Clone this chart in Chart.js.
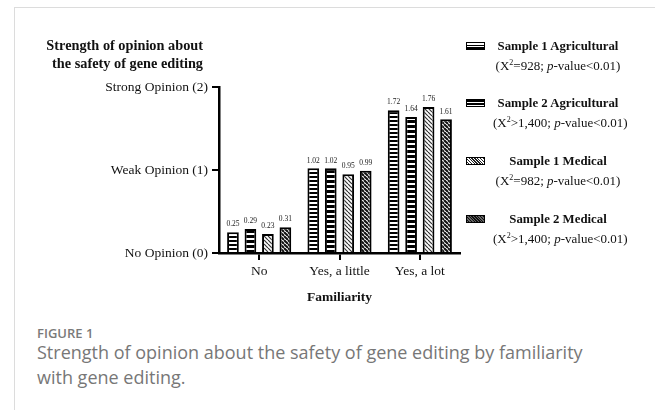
<!DOCTYPE html>
<html>
<head>
<meta charset="utf-8">
<script src="https://cdn.jsdelivr.net/npm/chart.js@4"></script>
<style>
  html, body { margin: 0; padding: 0; background: #fff; }
  body { width: 655px; height: 410px; position: relative; overflow: hidden; }
  .card { position: absolute; left: 14px; top: 7px; width: 700px; height: 500px; border: 1px solid #dcdcdc; }
  #wrap { position: absolute; left: 0; top: 0; width: 655px; height: 310px; }
  .serif { font-family: "Liberation Serif", "Times New Roman", serif; color: #111; }
  .ytitle { position: absolute; left: 0; width: 203px; top: 36px; text-align: right; font-weight: bold; font-size: 14.3px; line-height: 18px; }
  .legend { position: absolute; left: 466px; top: 0; width: 189px; }
  .item { position: absolute; left: 0; width: 189px; }
  .sw { position: absolute; left: 0; width: 17px; height: 6px; border: 1.5px solid #000; }
  .lt { position: absolute; left: 27px; width: 130px; text-align: center; font-size: 13px; line-height: 20px; white-space: nowrap; }
  .lt b { display: block; font-size: 12.8px; }
  .lt sup { font-size: 8px; line-height: 0; }
  .cap { position: absolute; left: 37px; font-family: "Open Sans", sans-serif; }
  .fig { top: 324px; font-size: 13px; font-weight: 600; color: #7a7a7a; }
  .txt { top: 340px; font-size: 18px; line-height: 25px; color: #777; width: 620px; }
</style>
</head>
<body>
<div class="card"></div>
<div id="wrap"><canvas id="chart"></canvas></div>
<div class="ytitle serif">Strength of opinion about<br>the safety of gene editing</div>
<div class="legend serif" id="legend"></div>
<div class="cap fig">FIGURE 1</div>
<div class="cap txt">Strength of opinion about the safety of gene editing by familiarity<br>with gene editing.</div>
<script>
const categories = ['No', 'Yes, a little', 'Yes, a lot']
const yTickLabels = ['No Opinion (0)', 'Weak Opinion (1)', 'Strong Opinion (2)']
const seriesNames = ['Sample 1 Agricultural', 'Sample 2 Agricultural', 'Sample 1 Medical', 'Sample 2 Medical']
const seriesStats = [
  '(X<sup>2</sup>=928; <i>p</i>-value&lt;0.01)',
  '(X<sup>2</sup>&gt;1,400; <i>p</i>-value&lt;0.01)',
  '(X<sup>2</sup>=982; <i>p</i>-value&lt;0.01)',
  '(X<sup>2</sup>&gt;1,400; <i>p</i>-value&lt;0.01)'
]
const sample1Agri = [0.25, 1.02, 1.72]
const sample2Agri = [0.29, 1.02, 1.64]
const sample1Med = [0.23, 0.95, 1.76]
const sample2Med = [0.31, 0.99, 1.61]

const SERIF = '"Liberation Serif", "Times New Roman", serif'

// stripe patterns for the bars
function hStripes(black, white) {
  const c = document.createElement('canvas')
  c.width = 4; c.height = black + white
  const g = c.getContext('2d')
  g.fillStyle = '#fff'; g.fillRect(0, 0, 4, c.height)
  g.fillStyle = '#000'; g.fillRect(0, 0, 4, black)
  return g.createPattern(c, 'repeat')
}
function dStripes(ink, width) {
  const c = document.createElement('canvas')
  c.width = 4; c.height = 4
  const g = c.getContext('2d')
  g.fillStyle = '#fff'; g.fillRect(0, 0, 4, 4)
  g.strokeStyle = ink; g.lineWidth = width
  for (let k = -4; k <= 8; k += 4) {
    g.beginPath(); g.moveTo(k, 0); g.lineTo(k + 4, 4); g.stroke()
  }
  return g.createPattern(c, 'repeat')
}
const patterns = [hStripes(2, 2), hStripes(3, 2), dStripes('#333', 1.2), dStripes('#111', 2)]
const swatchCss = [
  'repeating-linear-gradient(180deg,#fff 0 1.5px,#000 1.5px 3px)',
  'repeating-linear-gradient(180deg,#000 0 2px,#fff 2px 3px)',
  'repeating-linear-gradient(45deg,#fff 0 1px,#222 1px 2px)',
  'repeating-linear-gradient(45deg,#666 0 1px,#111 1px 2px)'
]

// html legend
const legendTops = [36, 93, 151, 209]
const legendEl = document.getElementById('legend')
seriesNames.forEach((name, i) => {
  const it = document.createElement('div')
  it.className = 'item'
  it.style.top = legendTops[i] + 'px'
  it.innerHTML = '<div class="sw" style="top:6px;background:' + swatchCss[i] + '"></div>' +
    '<div class="lt"><b>' + name + '</b>' + seriesStats[i] + '</div>'
  legendEl.appendChild(it)
})

const valueLabels = {
  id: 'valueLabels',
  afterDatasetsDraw(chart) {
    const ctx = chart.ctx
    ctx.save()
    ctx.font = '7.5px ' + SERIF
    ctx.fillStyle = '#222'
    ctx.textAlign = 'center'
    ctx.textBaseline = 'bottom'
    chart.data.datasets.forEach((ds, i) => {
      chart.getDatasetMeta(i).data.forEach((bar, j) => {
        ctx.fillText(ds.data[j].toFixed(2), bar.x, bar.y - 4)
      })
    })
    ctx.restore()
  }
}

const allSeries = [sample1Agri, sample2Agri, sample1Med, sample2Med]

new Chart(document.getElementById('chart'), {
  type: 'bar',
  data: {
    labels: categories,
    datasets: allSeries.map((vals, i) => ({
      label: seriesNames[i],
      data: vals,
      backgroundColor: patterns[i],
      borderColor: '#000',
      borderWidth: 2,
      borderSkipped: 'bottom'
    }))
  },
  options: {
    responsive: true,
    maintainAspectRatio: false,
    animation: false,
    layout: { padding: { left: 0, right: 195, top: 87, bottom: 0 } },
    plugins: {
      legend: { display: false },
      tooltip: { enabled: false }
    },
    datasets: { bar: { categoryPercentage: 0.87, barPercentage: 0.67 } },
    scales: {
      x: {
        grid: { offset: false, drawOnChartArea: false, color: '#000', tickLength: 7, lineWidth: 2 },
        border: { display: true, color: '#000', width: 2.5 },
        ticks: { color: '#111', font: { family: SERIF, size: 13.5 }, padding: 3 },
        title: { display: true, text: 'Familiarity', color: '#111', font: { family: SERIF, size: 13.5, weight: 'bold' }, padding: { top: 1 } },
        afterFit(scale) { scale.height = 57 }
      },
      y: {
        min: 0,
        max: 2,
        grid: { drawOnChartArea: false, color: '#000', tickLength: 7, lineWidth: 2 },
        border: { display: true, color: '#000', width: 2.5 },
        ticks: {
          stepSize: 1,
          color: '#111',
          padding: 4,
          font: { family: SERIF, size: 13.5 },
          callback: v => yTickLabels[v]
        },
        afterFit(scale) { scale.width = 219 }
      }
    }
  },
  plugins: [valueLabels]
})
</script>
</body>
</html>
